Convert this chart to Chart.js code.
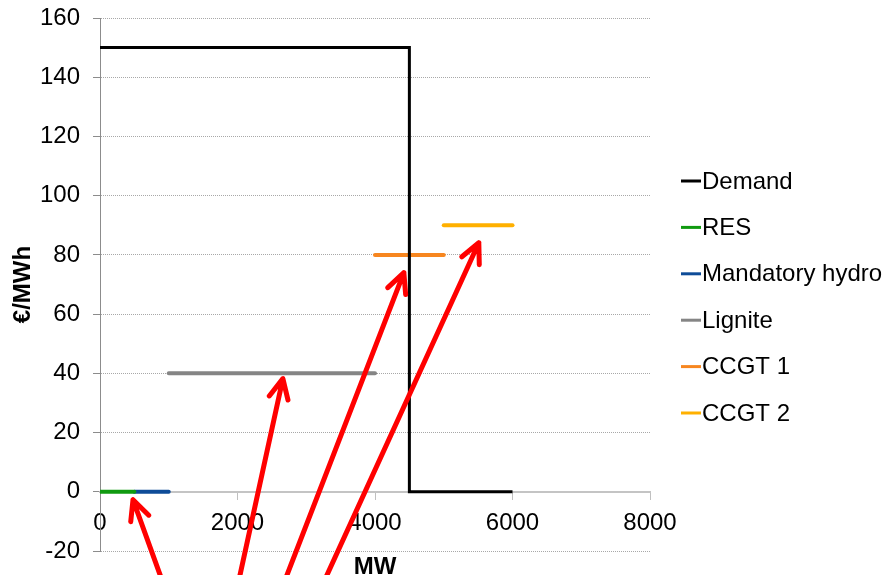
<!DOCTYPE html>
<html>
<head>
<meta charset="utf-8">
<script src="https://cdn.jsdelivr.net/npm/chart.js@4"></script>
<style>
  body { margin: 0; background: #fff; }
</style>
</head>
<body>
<canvas id="meritChart" width="885" height="575"></canvas>
<script>
// demand curve (MW, €/MWh)
const demandX = [0, 4500, 4500, 6000];
const demandY = [150, 150, 0, 0];

// supply blocks
const plantNames = ["RES", "Mandatory hydro", "Lignite", "CCGT 1", "CCGT 2"];
const plantFrom = [0, 500, 1000, 4000, 5000];
const plantTo = [500, 1000, 4000, 5000, 6000];
const plantPrice = [0, 0, 40, 80, 90];
const plantColors = ["#109a10", "#0e4c98", "#858585", "#f7861f", "#ffb000"];

const xTicks = [0, 2000, 4000, 6000, 8000];
const yTicks = [-20, 0, 20, 40, 60, 80, 100, 120, 140, 160];

// red arrows: tip and tail in chart units
const arrowTipX = [480, 2660, 4420, 5510];
const arrowTipY = [-2.7, 38.2, 74, 84.1];
const arrowTailX = [935, 2000, 2655, 3225];
const arrowTailY = [-32, -32, -32, -32];

const FONT = "'Liberation Sans', Arial, sans-serif";

const datasets = [{
  label: "Demand",
  data: demandX.map((x, i) => ({ x: x, y: demandY[i] })),
  borderColor: "#000",
  borderWidth: 3,
  pointRadius: 0
}];
plantNames.forEach((name, i) => {
  datasets.push({
    label: name,
    data: [{ x: plantFrom[i], y: plantPrice[i] }, { x: plantTo[i], y: plantPrice[i] }],
    borderColor: plantColors[i],
    borderWidth: 4,
    borderCapStyle: "round",
    pointRadius: 0
  });
});

const extras = {
  id: "extras",
  afterDraw(chart) {
    const ctx = chart.ctx;
    const xs = chart.scales.x, ys = chart.scales.y;
    const area = chart.chartArea;
    ctx.save();

    // axis titles
    ctx.fillStyle = "#000";
    ctx.font = "bold 24px " + FONT;
    ctx.textAlign = "center";
    ctx.textBaseline = "middle";
    ctx.fillText("MW", (area.left + area.right) / 2, area.bottom + 16);
    ctx.save();
    ctx.translate(23, (area.top + area.bottom) / 2);
    ctx.rotate(-Math.PI / 2);
    ctx.fillText("€/MWh", 0, 0);
    ctx.restore();

    // legend
    ctx.font = "24px " + FONT;
    ctx.textAlign = "left";
    chart.data.datasets.forEach((ds, i) => {
      const y = area.top + 163 + i * 46.4;
      ctx.strokeStyle = ds.borderColor;
      ctx.lineWidth = 3;
      ctx.beginPath();
      ctx.moveTo(area.right + 31, y);
      ctx.lineTo(area.right + 51, y);
      ctx.stroke();
      ctx.fillStyle = "#000";
      ctx.fillText(ds.label, area.right + 52, y + 1);
    });

    // arrows
    ctx.strokeStyle = "#ff0000";
    ctx.lineWidth = 5;
    ctx.lineCap = "round";
    ctx.lineJoin = "round";
    arrowTipX.forEach((tx, i) => {
      const x1 = xs.getPixelForValue(arrowTailX[i]);
      const y1 = ys.getPixelForValue(arrowTailY[i]);
      const x2 = xs.getPixelForValue(tx);
      const y2 = ys.getPixelForValue(arrowTipY[i]);
      const ang = Math.atan2(y2 - y1, x2 - x1);
      const len = 22, spread = 0.45;
      ctx.beginPath();
      ctx.moveTo(x1, y1);
      ctx.lineTo(x2, y2);
      ctx.moveTo(x2 - len * Math.cos(ang - spread), y2 - len * Math.sin(ang - spread));
      ctx.lineTo(x2, y2);
      ctx.lineTo(x2 - len * Math.cos(ang + spread), y2 - len * Math.sin(ang + spread));
      ctx.stroke();
    });
    ctx.restore();
  }
};

new Chart(document.getElementById("meritChart"), {
  type: "line",
  data: { datasets: datasets },
  plugins: [extras],
  options: {
    responsive: false,
    animation: false,
    layout: { padding: { left: 0, top: 18, right: 235, bottom: 24 } },
    plugins: { legend: { display: false }, tooltip: { enabled: false } },
    scales: {
      x: {
        type: "linear",
        position: { y: 0 },
        min: 0,
        max: 8000,
        afterBuildTicks: s => { s.ticks = xTicks.map(v => ({ value: v })); },
        ticks: { color: "#000", font: { family: FONT, size: 24 }, padding: 10, maxRotation: 0, callback: v => String(v) },
        grid: { drawOnChartArea: false, tickLength: 7, tickColor: "#c0c0c0" },
        border: { color: "#c4c4c4", width: 2 }
      },
      y: {
        min: -20,
        max: 160,
        afterBuildTicks: s => { s.ticks = yTicks.map(v => ({ value: v })); },
        afterFit: s => { s.width = 100; s.paddingTop = 0; s.paddingBottom = 0; },
        ticks: { color: "#000", font: { family: FONT, size: 24 }, padding: 13 },
        grid: { color: "#a8a8a8", tickLength: 7, tickColor: "#8c8c8c" },
        border: { color: "#8c8c8c", width: 1, dash: [1, 1] }
      }
    }
  }
});
</script>
</body>
</html>
